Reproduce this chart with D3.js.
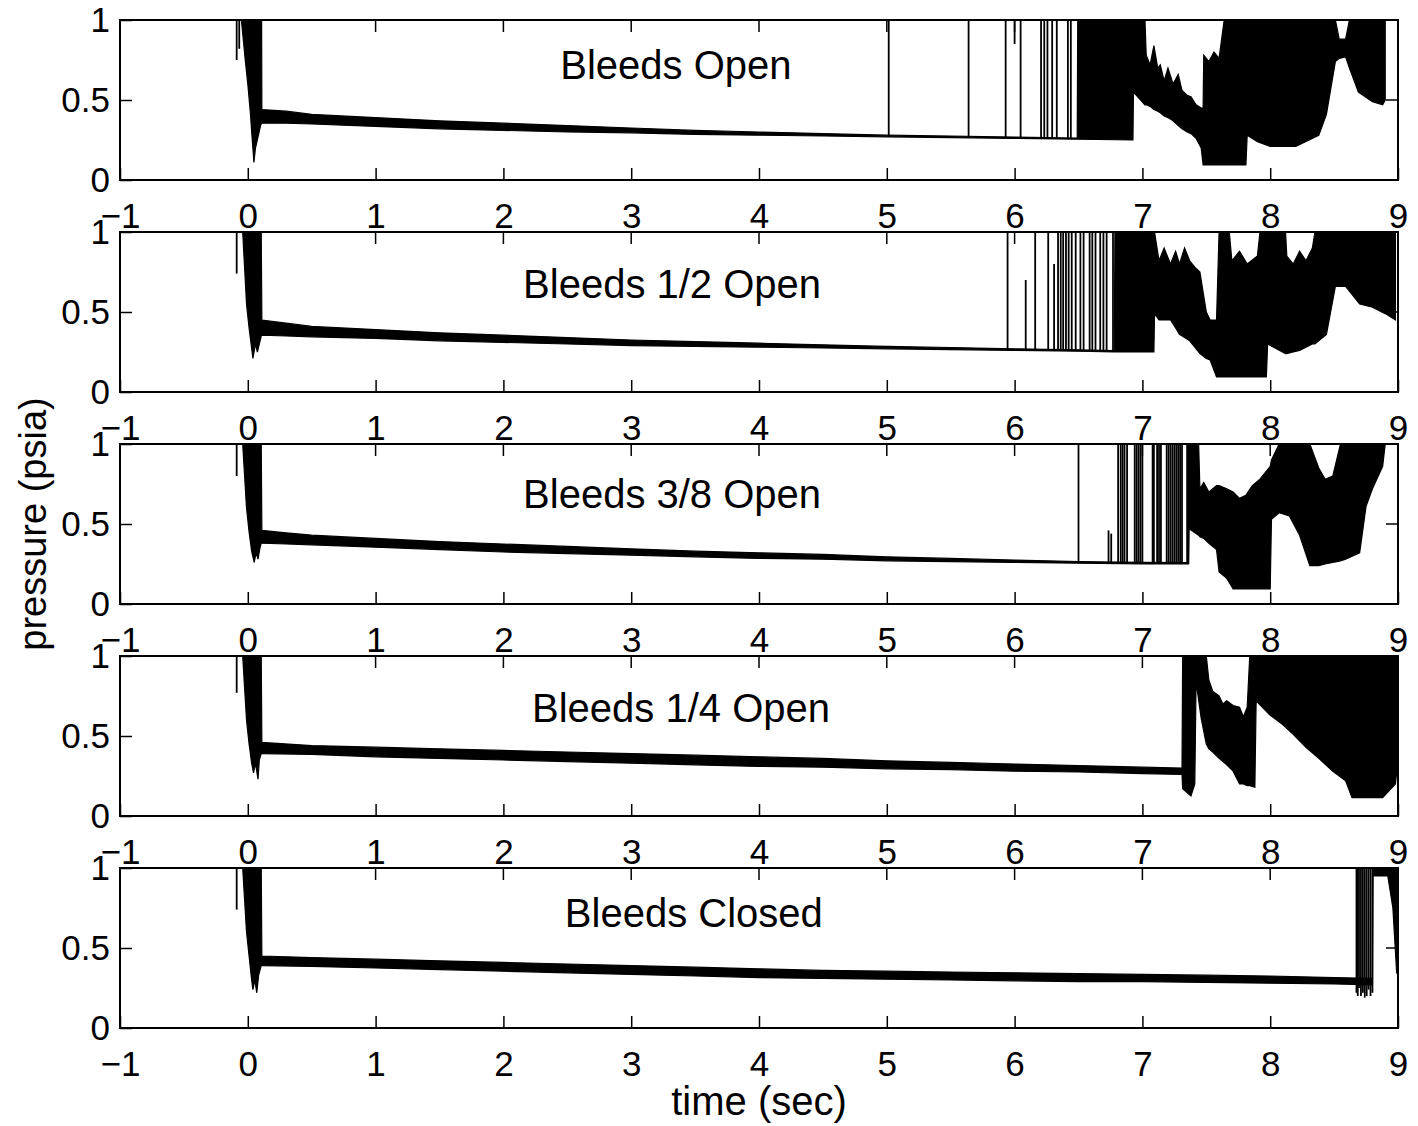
<!DOCTYPE html>
<html>
<head>
<meta charset="utf-8">
<script src="https://cdn.jsdelivr.net/npm/d3@7"></script>
<style>
  body { margin: 0; background: #fff; }
  svg { display: block; font-family: "Liberation Sans", Arial, Helvetica, sans-serif; }
</style>
</head>
<body>
<div id="chart"></div>
<script>
// ---- data ----
const titles = ['Bleeds Open', 'Bleeds 1/2 Open', 'Bleeds 3/8 Open', 'Bleeds 1/4 Open', 'Bleeds Closed'];
const xTicks = [-1, 0, 1, 2, 3, 4, 5, 6, 7, 8, 9];
const xTickLabels = ['\u22121', '0', '1', '2', '3', '4', '5', '6', '7', '8', '9'];
const yTicks = [0, 0.5, 1];
const yTickLabels = ['0', '0.5', '1'];

// envelope of each trace: [time, low, high] pressure
const openEnv = [
  [-0.05, 1, 1], [-0.02, 0.75, 1], [0, 0.6, 1], [0.02, 0.42, 1], [0.035, 0.25, 1], [0.048, 0.11, 1],
  [0.06, 0.2, 1], [0.08, 0.27, 1], [0.1, 0.34, 1], [0.108, 0.355, 1],
  [0.11, 0.355, 0.44], [0.3, 0.355, 0.43], [0.5, 0.35, 0.41], [1, 0.335, 0.39], [1.5, 0.32, 0.37],
  [2, 0.31, 0.355], [2.5, 0.3, 0.34], [3, 0.295, 0.325], [3.5, 0.285, 0.31], [4, 0.28, 0.3],
  [4.5, 0.275, 0.29], [5, 0.27, 0.28], [5.5, 0.265, 0.275], [6, 0.26, 0.268], [6.49, 0.255, 0.262],
  [6.494, 0.255, 1], [6.926, 0.25, 1], [6.93, 0.55, 1], [7.02, 0.47, 1], [7.03, 0.47, 0.78],
  [7.06, 0.46, 0.72], [7.09, 0.44, 0.84], [7.12, 0.43, 0.7], [7.14, 0.42, 0.72], [7.17, 0.4, 0.62],
  [7.2, 0.39, 0.7], [7.24, 0.37, 0.6], [7.28, 0.34, 0.66], [7.31, 0.32, 0.56], [7.35, 0.3, 0.53],
  [7.38, 0.29, 0.52], [7.42, 0.26, 0.47], [7.46, 0.2, 0.45], [7.475, 0.094, 0.45], [7.48, 0.094, 0.78],
  [7.52, 0.094, 0.74], [7.56, 0.094, 0.8], [7.6, 0.094, 0.76],
  [7.64, 0.094, 1], [7.81, 0.094, 1], [7.82, 0.28, 1], [7.9, 0.24, 1], [8, 0.21, 1], [8.2, 0.21, 1],
  [8.38, 0.28, 1], [8.44, 0.41, 1], [8.51, 0.74, 1], [8.54, 0.76, 0.88], [8.59, 0.77, 0.88],
  [8.62, 0.7, 1], [8.69, 0.55, 1], [8.8, 0.49, 1], [8.88, 0.47, 1], [8.9, 0.5, 1]
];
const halfEnv = [
  [-0.04, 1, 1], [-0.01, 0.55, 1], [0.01, 0.4, 1], [0.04, 0.21, 1], [0.06, 0.3, 1], [0.075, 0.25, 1],
  [0.09, 0.3, 1], [0.105, 0.35, 1],
  [0.11, 0.355, 0.45], [0.3, 0.35, 0.43], [0.5, 0.345, 0.41], [1, 0.335, 0.39], [1.5, 0.32, 0.37],
  [2, 0.31, 0.355], [2.5, 0.3, 0.34], [3, 0.29, 0.325], [3.5, 0.285, 0.315], [4, 0.28, 0.305],
  [4.5, 0.275, 0.295], [5, 0.27, 0.285], [5.5, 0.265, 0.278], [6, 0.26, 0.27], [6.5, 0.255, 0.264],
  [6.78, 0.25, 0.258],
  [6.785, 0.25, 1], [7.09, 0.25, 1], [7.095, 0.49, 1], [7.13, 0.45, 0.82], [7.17, 0.45, 0.9],
  [7.22, 0.45, 0.8], [7.26, 0.4, 0.88],
  [7.29, 0.36, 0.8], [7.33, 0.34, 0.9], [7.37, 0.32, 0.82], [7.41, 0.28, 0.78], [7.45, 0.24, 0.75],
  [7.5, 0.21, 0.5], [7.53, 0.2, 0.45],
  [7.58, 0.094, 0.45], [7.6, 0.094, 1], [7.68, 0.094, 1], [7.7, 0.094, 0.82], [7.76, 0.094, 0.88],
  [7.82, 0.094, 0.8], [7.9, 0.094, 0.85],
  [7.92, 0.094, 1], [7.97, 0.094, 1], [7.98, 0.3, 1], [8.12, 0.24, 1], [8.13, 0.24, 0.85],
  [8.18, 0.25, 0.8], [8.23, 0.26, 0.88], [8.28, 0.28, 0.82], [8.33, 0.3, 0.9], [8.35, 0.3, 1],
  [8.44, 0.36, 1], [8.51, 0.66, 1],
  [8.59, 0.66, 1], [8.7, 0.55, 1], [8.8, 0.53, 1], [8.9, 0.49, 1], [8.98, 0.45, 1]
];
const threeEighthsEnv = [
  [-0.04, 1, 1], [-0.01, 0.6, 1], [0.01, 0.45, 1], [0.03, 0.33, 1], [0.05, 0.26, 1], [0.065, 0.32, 1],
  [0.08, 0.28, 1], [0.095, 0.35, 1], [0.105, 0.38, 1],
  [0.11, 0.38, 0.46], [0.3, 0.375, 0.445], [0.5, 0.37, 0.43], [1, 0.355, 0.41], [1.5, 0.34, 0.39],
  [2, 0.325, 0.375], [2.5, 0.315, 0.36], [3, 0.305, 0.345], [3.5, 0.295, 0.33], [4, 0.285, 0.32],
  [4.5, 0.28, 0.31], [5, 0.27, 0.295], [5.5, 0.265, 0.285], [6, 0.26, 0.275], [6.5, 0.255, 0.265],
  [7, 0.25, 0.26], [7.36, 0.25, 0.258],
  [7.365, 0.47, 1], [7.44, 0.43, 1], [7.45, 0.42, 0.72], [7.48, 0.41, 0.76], [7.52, 0.38, 0.7],
  [7.58, 0.34, 0.74], [7.6, 0.2, 0.74], [7.66, 0.16, 0.72], [7.71, 0.094, 0.7], [7.76, 0.094, 0.66],
  [7.81, 0.094, 0.68], [7.86, 0.094, 0.74], [7.92, 0.094, 0.78],
  [8, 0.094, 0.86], [8.01, 0.53, 0.9], [8.07, 0.57, 1], [8.15, 0.55, 1], [8.23, 0.43, 1],
  [8.31, 0.24, 1], [8.38, 0.24, 0.85], [8.43, 0.25, 0.78], [8.49, 0.26, 0.8], [8.55, 0.27, 1],
  [8.59, 0.28, 1], [8.7, 0.32, 1], [8.75, 0.61, 1], [8.8, 0.72, 1], [8.88, 0.86, 1], [8.9, 1, 1]
];
const quarterEnv = [
  [-0.04, 1, 1], [-0.01, 0.6, 1], [0.01, 0.45, 1], [0.03, 0.33, 1], [0.045, 0.27, 1], [0.06, 0.33, 1],
  [0.08, 0.23, 1], [0.09, 0.35, 1], [0.105, 0.39, 1],
  [0.11, 0.39, 0.46], [0.5, 0.385, 0.44], [1, 0.37, 0.43], [1.5, 0.36, 0.42], [2, 0.35, 0.41],
  [2.5, 0.34, 0.4], [3, 0.33, 0.39], [3.5, 0.32, 0.38], [4, 0.31, 0.37], [4.5, 0.305, 0.36],
  [5, 0.295, 0.345], [5.5, 0.29, 0.335], [6, 0.28, 0.325], [6.5, 0.275, 0.315], [7, 0.265, 0.305],
  [7.31, 0.26, 0.3],
  [7.315, 0.17, 1], [7.38, 0.125, 1], [7.41, 0.2, 1], [7.42, 0.84, 1], [7.46, 0.61, 1], [7.5, 0.45, 1],
  [7.52, 0.42, 0.85], [7.55, 0.4, 0.78], [7.6, 0.36, 0.75], [7.63, 0.34, 0.7], [7.66, 0.32, 0.72],
  [7.71, 0.28, 0.69], [7.76, 0.2, 0.68], [7.79, 0.2, 0.62], [7.82, 0.19, 0.68], [7.84, 0.19, 1],
  [7.88, 0.18, 1], [7.89, 0.72, 1],
  [8, 0.63, 1], [8.1, 0.57, 1], [8.18, 0.51, 1], [8.28, 0.43, 1], [8.38, 0.36, 1], [8.49, 0.28, 1],
  [8.59, 0.22, 1], [8.64, 0.115, 1], [8.88, 0.115, 1], [8.98, 0.2, 1], [9, 0.35, 1]
];
const closedEnv = [
  [-0.04, 1, 1], [-0.01, 0.6, 1], [0.01, 0.45, 1], [0.03, 0.3, 1], [0.04, 0.24, 1], [0.055, 0.3, 1],
  [0.07, 0.22, 1], [0.085, 0.33, 1], [0.105, 0.39, 1],
  [0.11, 0.39, 0.45], [0.5, 0.385, 0.44], [1, 0.375, 0.43], [1.5, 0.365, 0.42], [2, 0.355, 0.41],
  [2.5, 0.345, 0.4], [3, 0.335, 0.39], [3.5, 0.325, 0.38], [4, 0.315, 0.37], [4.5, 0.31, 0.36],
  [5, 0.305, 0.355], [5.5, 0.3, 0.35], [6, 0.295, 0.345], [6.5, 0.29, 0.34], [7, 0.29, 0.335],
  [7.5, 0.285, 0.33], [8, 0.28, 0.325], [8.5, 0.275, 0.315], [8.8, 0.27, 0.31],
  [8.805, 0.95, 1], [8.92, 0.95, 1], [8.96, 0.75, 1], [8.99, 0.34, 1]
];

// single excursions: [time, low, high]
const openSpikes = [
  [-0.087, 0.75, 1], [-0.067, 0.82, 1], [5.015, 0.27, 1], [5.64, 0.265, 1], [5.93, 0.26, 1],
  [6.0, 0.85, 1], [6.047, 0.26, 1], [6.207, 0.26, 1], [6.232, 0.26, 1], [6.257, 0.26, 1],
  [6.294, 0.26, 1], [6.33, 0.26, 1], [6.417, 0.255, 1], [6.44, 0.255, 1]
];
const halfSpikes = [
  [-0.087, 0.74, 1], [5.945, 0.26, 1], [6.087, 0.26, 0.7], [6.161, 0.26, 1], [6.263, 0.26, 1],
  [6.309, 0.26, 0.8], [6.34, 0.26, 1], [6.361, 0.26, 1], [6.38, 0.26, 1], [6.402, 0.26, 1],
  [6.423, 0.26, 1], [6.447, 0.255, 1], [6.478, 0.255, 1], [6.515, 0.255, 1], [6.54, 0.255, 1],
  [6.587, 0.255, 1], [6.608, 0.255, 1], [6.633, 0.255, 1], [6.67, 0.255, 1], [6.695, 0.25, 1],
  [6.72, 0.25, 1], [6.77, 0.25, 1]
];
const threeEighthsSpikes = [
  [-0.087, 0.8, 1], [6.5, 0.255, 1], [6.735, 0.25, 0.46], [6.756, 0.25, 0.44], [6.81, 0.25, 1],
  [6.83, 0.25, 1], [6.845, 0.25, 1], [6.86, 0.25, 1], [6.88, 0.25, 1], [6.94, 0.25, 1],
  [6.955, 0.25, 1], [6.97, 0.25, 1], [6.985, 0.25, 1], [7.0, 0.25, 1], [7.08, 0.25, 1],
  [7.09, 0.25, 1], [7.115, 0.25, 1], [7.13, 0.25, 1], [7.145, 0.25, 1], [7.19, 0.25, 1],
  [7.205, 0.25, 1], [7.22, 0.25, 1], [7.235, 0.25, 1], [7.25, 0.25, 1], [7.265, 0.25, 1],
  [7.28, 0.25, 1], [7.295, 0.25, 1], [7.31, 0.25, 1], [7.35, 0.25, 1], [7.36, 0.25, 1]
];
const quarterSpikes = [[-0.087, 0.77, 1]];
const closedSpikes = [
  [-0.087, 0.74, 1], [8.675, 0.22, 1], [8.685, 0.2, 1], [8.695, 0.25, 1], [8.71, 0.2, 1],
  [8.725, 0.22, 1], [8.74, 0.19, 1], [8.755, 0.2, 1], [8.77, 0.24, 1], [8.785, 0.2, 1], [8.8, 0.22, 1]
];

const envelopes = [openEnv, halfEnv, threeEighthsEnv, quarterEnv, closedEnv];
const spikes = [openSpikes, halfSpikes, threeEighthsSpikes, quarterSpikes, closedSpikes];

// ---- layout ----
const width = 1418;
const height = 1126;
const margin = {top: 20, left: 120, right: 20};
const panelH = 160;
const panelStep = 212;
const tickLen = 12;
const titlePos = [[3.35, 0.72], [3.32, 0.675], [3.32, 0.69], [3.39, 0.675], [3.49, 0.72]];

const svg = d3.select('#chart').append('svg')
  .attr('width', width)
  .attr('height', height);

const x = d3.scaleLinear().domain([-1, 9]).range([margin.left, width - margin.right]);

envelopes.forEach((env, i) => {
  const top = margin.top + i * panelStep;
  const y = d3.scaleLinear().domain([0, 1]).range([top + panelH, top]);
  const g = svg.append('g');

  g.append('clipPath').attr('id', 'clip' + i)
    .append('rect')
    .attr('x', x(-1)).attr('y', top)
    .attr('width', x(9) - x(-1)).attr('height', panelH);

  const plot = g.append('g').attr('clip-path', `url(#clip${i})`);

  const area = d3.area()
    .x(d => x(d[0]))
    .y0(d => y(d[1]))
    .y1(d => y(d[2]));

  plot.append('path')
    .datum(env)
    .attr('d', area)
    .attr('fill', '#000')
    .attr('stroke', '#000')
    .attr('stroke-width', 1.2);

  plot.selectAll('line.spike')
    .data(spikes[i])
    .join('line')
      .attr('class', 'spike')
      .attr('x1', d => x(d[0])).attr('x2', d => x(d[0]))
      .attr('y1', d => y(d[1])).attr('y2', d => y(d[2]))
      .attr('stroke', '#000')
      .attr('stroke-width', 1.8);

  // axes, ticks point inward like the original
  const xAxis = g.append('g')
    .attr('transform', `translate(0,${top + panelH})`)
    .call(d3.axisBottom(x).tickValues(xTicks).tickSize(-tickLen).tickSizeOuter(0)
      .tickPadding(23).tickFormat((d, k) => xTickLabels[k]));
  xAxis.selectAll('text').attr('dy', '0.71em');

  const yAxis = g.append('g')
    .attr('transform', `translate(${x(-1)},0)`)
    .call(d3.axisLeft(y).tickValues(yTicks).tickSize(-tickLen).tickSizeOuter(0)
      .tickPadding(10).tickFormat((d, k) => yTickLabels[k]));

  [xAxis, yAxis].forEach(a => {
    a.attr('font-size', 35).attr('font-family', null);
    a.select('.domain').remove();
    a.selectAll('line').attr('stroke', '#000').attr('stroke-width', 1.5);
    a.selectAll('text').attr('fill', '#000');
  });

  // mirrored ticks on top and right
  g.selectAll('line.topTick')
    .data(xTicks)
    .join('line')
      .attr('class', 'topTick')
      .attr('x1', d => x(d)).attr('x2', d => x(d))
      .attr('y1', top).attr('y2', top + tickLen)
      .attr('stroke', '#000').attr('stroke-width', 1.5);
  g.selectAll('line.rightTick')
    .data(yTicks)
    .join('line')
      .attr('class', 'rightTick')
      .attr('x1', x(9)).attr('x2', x(9) - tickLen)
      .attr('y1', d => y(d)).attr('y2', d => y(d))
      .attr('stroke', '#000').attr('stroke-width', 1.5);

  g.append('rect')
    .attr('x', x(-1)).attr('y', top)
    .attr('width', x(9) - x(-1)).attr('height', panelH)
    .attr('fill', 'none')
    .attr('stroke', '#000')
    .attr('stroke-width', 2);

  g.append('text')
    .attr('x', x(titlePos[i][0]))
    .attr('y', y(titlePos[i][1]))
    .attr('dy', '0.35em')
    .attr('text-anchor', 'middle')
    .attr('font-size', 40)
    .text(titles[i]);
});

svg.append('text')
  .attr('x', x(4))
  .attr('y', 1115)
  .attr('text-anchor', 'middle')
  .attr('font-size', 40)
  .text('time (sec)');

svg.append('text')
  .attr('transform', `translate(46,${margin.top + (4 * panelStep + panelH) / 2}) rotate(-90)`)
  .attr('text-anchor', 'middle')
  .attr('font-size', 38)
  .text('pressure (psia)');
</script>
</body>
</html>
